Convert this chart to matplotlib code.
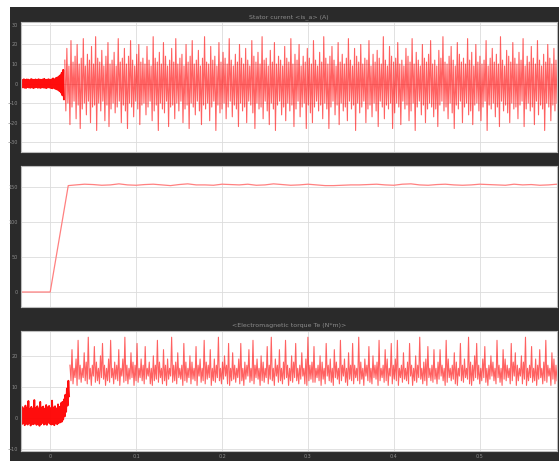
import numpy as np
import matplotlib.pyplot as plt
from matplotlib.patches import Rectangle

# x axis (time, s)
x_ticks = [0, 0.1, 0.2, 0.3, 0.4, 0.5]
x_labels = ["0", "0.1", "0.2", "0.3", "0.4", "0.5"]
t_min, t_max = -0.034, 0.590

# panel 1: stator current, pre-step band and post-step oscillation
cur_title = "Stator current <is_a> (A)"
cur_ticks = [-30, -20, -10, 0, 10, 20, 30]
cur_pre_hi = [2, 1.8, 2.2, 1.9, 2.1, 2, 1.7, 2.3, 2, 1.9, 2.1, 1.8, 2.2, 2, 1.9,
              2.1, 2.4, 1.8, 2, 2.2, 1.9, 2.1, 2.6, 2.2, 2.8, 3.1, 3.6, 4.2, 5.5, 7]
cur_pre_lo = [-2, -1.9, -2.1, -2.2, -1.8, -2, -2.1, -1.9, -2.3, -2, -1.8, -2.1, -2, -2.2, -1.9,
              -2, -2.1, -2.3, -1.9, -2, -2.2, -2.4, -2.1, -2.6, -2.9, -3.3, -3.9, -4.6, -6, -8]
cur_hi = [12, 18, 9, 22, 11, 14, 20, 10, 13, 23, 9, 15, 12, 19, 10, 24, 13, 11, 17, 9,
          14, 21, 10, 12, 16, 9, 23, 11, 13, 18, 10, 14, 22, 12, 9, 15, 20, 11, 13, 10,
          19, 12, 9, 24, 13, 11, 16, 10, 21, 14, 9, 12, 18, 11, 23, 10, 13, 15, 9, 20,
          11, 14, 22, 10, 12, 17, 9, 13, 24, 11, 10, 19, 12, 14, 9, 21, 11, 16, 13, 10,
          23, 12, 9, 15, 11, 20, 13, 10, 18, 12, 9, 22, 14, 11, 16, 10, 24, 12, 13, 9,
          17, 11, 21, 10, 14, 12, 9, 19, 13, 11, 23, 10, 15, 12, 20, 9, 14, 11, 18, 13,
          10, 22, 12, 9, 16, 11, 24, 13, 10, 14, 19, 12, 9, 21, 11, 15, 10, 13, 23, 12,
          9, 18, 14, 11, 20, 10, 13, 12, 22, 9, 15, 11, 17, 13, 10, 24, 12, 9, 19, 14,
          11, 13, 21, 10, 12, 9, 18, 14, 11, 23, 10, 16, 12, 9, 20, 13, 11, 15, 22, 10,
          12, 9, 17, 13, 24, 11, 10, 14, 19, 12, 9, 21, 15, 11, 13, 10, 23, 12, 16, 9,
          20, 11, 14, 10, 12, 22, 9, 13, 18, 11, 15, 10, 24, 12, 9, 17, 14, 11, 21, 13,
          10, 16, 12, 23, 9, 14, 11, 19, 13, 10, 22, 12, 9, 15, 11, 20, 13, 10, 18, 12]
cur_lo = [-14, -10, -21, -12, -9, -18, -11, -23, -13, -10, -16, -9, -20, -12, -11, -24, -10, -14, -9, -19,
          -11, -22, -13, -10, -15, -12, -9, -20, -11, -14, -23, -10, -12, -17, -9, -13, -21, -11, -10, -16,
          -12, -9, -19, -14, -11, -24, -10, -13, -15, -9, -22, -12, -11, -18, -10, -14, -9, -20, -13, -11,
          -23, -10, -12, -16, -9, -14, -21, -11, -13, -10, -19, -12, -9, -24, -11, -15, -13, -10, -18, -12,
          -9, -17, -11, -13, -22, -10, -14, -12, -20, -9, -11, -15, -23, -10, -13, -12, -18, -9, -14, -21,
          -10, -13, -24, -11, -9, -16, -12, -19, -10, -14, -11, -22, -13, -9, -17, -12, -10, -23, -11, -15,
          -20, -12, -9, -14, -11, -18, -10, -13, -23, -12, -9, -16, -11, -21, -10, -14, -12, -19, -9, -13,
          -11, -24, -10, -15, -12, -9, -20, -13, -11, -17, -10, -14, -22, -9, -12, -18, -11, -13, -10, -23,
          -15, -10, -12, -21, -9, -13, -11, -19, -14, -10, -24, -12, -9, -16, -11, -20, -13, -10, -12, -17,
          -13, -22, -11, -9, -14, -12, -18, -10, -15, -23, -11, -13, -9, -20, -12, -10, -16, -14, -21, -11,
          -10, -14, -19, -12, -9, -24, -11, -13, -10, -17, -12, -22, -9, -14, -11, -15, -20, -10, -13, -12,
          -18, -11, -9, -22, -13, -10, -14, -12, -21, -9, -16, -11, -13, -24, -10, -12, -19, -11, -14, -10]

# panel 2: rotor speed
spd_ticks = [0, 50, 100, 150]
spd_pre_t = [-0.034, 0.0, 0.021]
spd_pre = [0, 0, 152]
spd_post = [153, 154, 153.5, 152.5, 153, 154.5, 153, 152.5, 153.5, 154, 153, 152, 153.5, 154.5,
            153, 153, 152.5, 154, 153.5, 153, 154, 152.5, 153, 154.5, 153.5, 152.5, 153, 154,
            153, 152, 152, 152.5, 153, 153, 153.5, 154, 153, 152.5, 154, 154.5, 153, 152.5,
            153.5, 154, 153, 152.5, 153, 154, 153.5, 153, 152.5, 154, 153, 153.5, 152.5, 153, 154]

# panel 3: electromagnetic torque
tq_title = "<Electromagnetic torque Te (N*m)>"
tq_ticks = [-10, 0, 10, 20]
tq_pre_hi = [3, 3.5, 2.8, 4, 3.2, 5.5, 3, 3.6, 2.9, 5.8, 3.3, 3.8, 3.1, 5.2, 3.4, 3.7, 3, 4.2, 3.5, 3.9,
             3.2, 5.6, 3.4, 3.8, 3.1, 4.4, 3.6, 4.8, 5.2, 6, 7.5, 9.5, 12]
tq_pre_lo = [-2, -1.6, -2.3, -1.8, -2.1, -1.5, -2.4, -1.9, -2, -1.7, -2.2, -1.8, -2.5, -2, -1.6, -2.1,
             -1.9, -2.2, -1.5, -1.8, -2.1, -1.9, -2.3, -1.7, -2, -1.6, -1.4, -1.2, -0.5, 0.5, 2, 4, 7]
tq_hi = [17, 22, 16, 19, 25, 17, 16, 21, 18, 26, 16, 17, 23, 18, 16, 20, 24, 17, 16, 19,
         25, 16, 18, 17, 22, 16, 19, 26, 17, 16, 21, 18, 17, 24, 16, 19, 17, 23, 16, 18,
         16, 20, 17, 25, 18, 16, 22, 17, 19, 16, 26, 17, 18, 21, 16, 17, 24, 18, 16, 20,
         18, 16, 23, 17, 19, 16, 25, 18, 17, 22, 16, 19, 17, 26, 16, 18, 20, 17, 24, 16,
         21, 17, 16, 19, 24, 16, 18, 17, 22, 16, 25, 17, 19, 16, 20, 18, 16, 23, 17, 26,
         16, 19, 17, 22, 16, 18, 25, 17, 16, 20, 18, 24, 16, 17, 21, 16, 19, 26, 17, 18,
         23, 16, 17, 20, 18, 16, 24, 17, 19, 16, 22, 18, 16, 25, 17, 19, 16, 21, 17, 24,
         17, 16, 26, 18, 16, 19, 17, 23, 16, 20, 17, 18, 25, 16, 17, 22, 19, 16, 24, 17,
         19, 25, 16, 17, 21, 16, 18, 24, 17, 16, 20, 17, 26, 16, 18, 19, 23, 16, 17, 22,
         16, 18, 22, 17, 16, 25, 19, 16, 17, 21, 18, 16, 24, 17, 19, 16, 26, 18, 17, 20,
         24, 17, 16, 19, 23, 16, 17, 20, 18, 16, 25, 17, 16, 22, 19, 17, 16, 24, 18, 21,
         17, 16, 20, 18, 26, 16, 17, 23, 16, 19, 17, 22, 16, 18, 25, 17, 16, 21, 19, 17]
tq_lo = [12, 11, 13, 10.5, 12.5, 11.5, 13, 12, 11, 12.5, 10.5, 13.5, 11.5, 12, 11, 13, 12.5, 10.5, 12, 11.5,
         13, 11, 12.5, 12, 10.5, 13.5, 11.5, 12, 11, 12.5, 13, 10.5, 12, 11.5, 13, 12, 11, 12.5, 13.5, 11,
         10.5, 12, 12.5, 11.5, 13, 11, 12, 10.5, 12.5, 13.5, 11.5, 12, 11, 13, 12.5, 10.5, 12, 11.5, 13, 11,
         12.5, 12, 10.5, 13.5, 11.5, 12, 11, 12.5, 13, 10.5, 12, 11.5, 13, 12, 11, 12.5, 13.5, 11, 10.5, 12,
         12.5, 11.5, 13, 11, 12, 10.5, 12.5, 13.5, 11.5, 12, 11, 13, 12.5, 10.5, 12, 11.5, 13, 11, 12.5, 12,
         10.5, 13.5, 11.5, 12, 11, 12.5, 13, 10.5, 12, 11.5, 13, 12, 11, 12.5, 13.5, 11, 10.5, 12, 12.5, 11.5,
         11.5, 13, 12, 10.5, 12.5, 11, 13.5, 12, 11.5, 10.5, 13, 12.5, 11, 12, 13.5, 11.5, 10.5, 12.5, 12, 11,
         13, 12, 11, 12.5, 10.5, 13.5, 12, 11.5, 11, 13, 12.5, 10.5, 12, 13, 11.5, 12, 10.5, 13.5, 11, 12.5,
         12, 10.5, 13, 11.5, 12.5, 12, 11, 13.5, 10.5, 12, 11.5, 13, 12.5, 11, 12, 10.5, 13, 12, 11.5, 12.5,
         11, 12.5, 13.5, 12, 10.5, 11.5, 13, 12, 12.5, 11, 10.5, 13.5, 12, 11.5, 13, 12.5, 11, 10.5, 12, 13,
         12.5, 11, 12, 13, 11.5, 10.5, 12.5, 13.5, 12, 11, 13, 11.5, 10.5, 12.5, 12, 13, 11, 12, 13.5, 10.5,
         12, 13.5, 11, 12.5, 10.5, 12, 13, 11.5, 12, 10.5, 12.5, 13, 11, 12, 11.5, 13.5, 10.5, 12.5, 11, 12]


def interleave(hi, lo):
    return np.column_stack([hi, lo]).ravel()


def sample_times(n, t0, t1):
    return np.linspace(t0, t1, n)


dark = "#2a2a2a"
grid_c = "#dcdcdc"
txt_c = "#8c8c8c"

fig = plt.figure(figsize=(5.59, 4.61), dpi=100, facecolor="white")
bg = Rectangle((10 / 559, 0), 1, (461 - 7) / 461, transform=fig.transFigure,
               facecolor=dark, edgecolor="none", zorder=-10)
fig.add_artist(bg)

left, width = 21 / 559, 536 / 559
ax1 = fig.add_axes([left, (461 - 152) / 461, width, 130 / 461])
ax2 = fig.add_axes([left, (461 - 307) / 461, width, 141 / 461])
ax3 = fig.add_axes([left, (461 - 451) / 461, width, 120 / 461])

# current
c_pre = interleave(cur_pre_hi, cur_pre_lo)
c_post = interleave(cur_hi, cur_lo)
ax1.plot(sample_times(len(c_pre), t_min, 0.016), c_pre, color="#ff0000", lw=1.4, alpha=0.95)
ax1.plot(sample_times(len(c_post), 0.017, t_max), c_post, color="#ff0000", lw=0.8, alpha=0.62)
ax1.set_ylim(-35, 31.5)
ax1.set_yticks(cur_ticks)
ax1.set_title(cur_title, color=txt_c, fontsize=4.5, pad=3)

# speed
spd_t = np.concatenate([spd_pre_t, 0.03 + 0.01 * np.arange(len(spd_post))])
ax2.plot(spd_t, spd_pre + spd_post, color="#ff8080", lw=0.9)
ax2.set_ylim(-21.4, 180)
ax2.set_yticks(spd_ticks)

# torque
q_pre = interleave(tq_pre_hi, tq_pre_lo)
q_post = interleave(tq_hi, tq_lo)
ax3.plot(sample_times(len(q_pre), t_min, 0.022), q_pre, color="#ff0000", lw=1.3, alpha=0.95)
ax3.plot(sample_times(len(q_post), 0.023, t_max), q_post, color="#ff0000", lw=0.8, alpha=0.62)
ax3.set_ylim(-10.6, 28)
ax3.set_yticks(tq_ticks)
ax3.set_title(tq_title, color=txt_c, fontsize=4.5, pad=3)

for ax in (ax1, ax2, ax3):
    ax.set_facecolor("white")
    ax.set_xlim(t_min, t_max)
    ax.set_xticks(x_ticks)
    ax.grid(True, color=grid_c, lw=0.6)
    ax.set_axisbelow(True)
    for s in ax.spines.values():
        s.set_color("#bdbdbd")
        s.set_linewidth(0.8)
    ax.tick_params(length=0, labelsize=3.5, labelcolor=txt_c, pad=2)
ax1.set_xticklabels([])
ax2.set_xticklabels([])
ax3.set_xticklabels(x_labels)

fig.savefig("out.png", dpi=100, facecolor="white")
